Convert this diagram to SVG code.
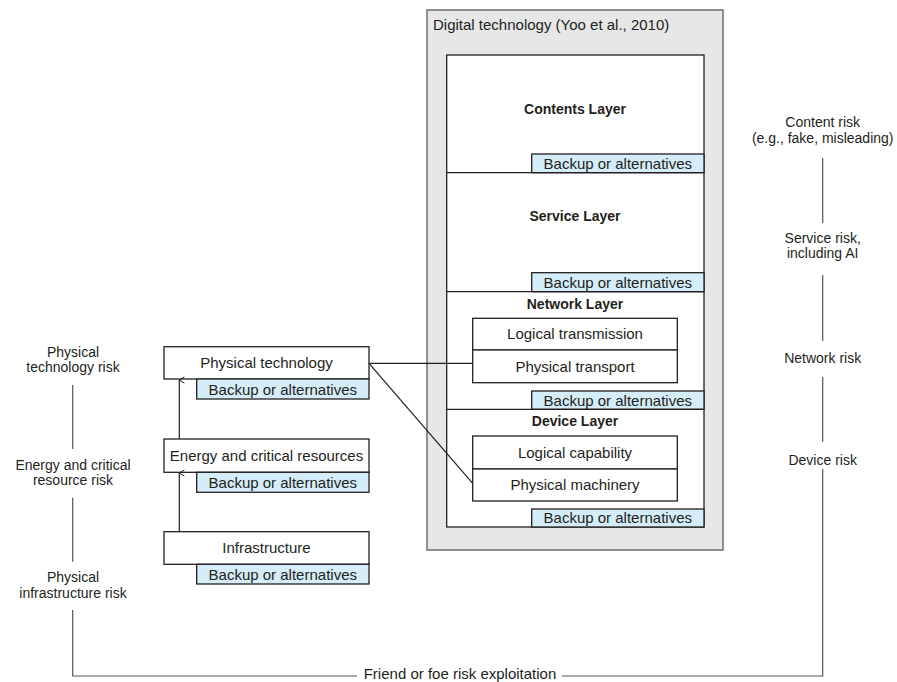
<svg xmlns="http://www.w3.org/2000/svg" width="897" height="682" viewBox="0 0 897 682">
<style>
text{font-family:"Liberation Sans",Arial,sans-serif;font-size:15px;fill:#231f20;text-anchor:middle}
.b{font-weight:bold;font-size:14px}
.r{font-size:14px}
.box{fill:#fff;stroke:#231f20;stroke-width:1.3}
.bk{fill:#d5edf8;stroke:#231f20;stroke-width:1.3}
.ln{stroke:#231f20;stroke-width:1.2;fill:none}
.gl{stroke:#555;stroke-width:1.2;fill:none}
</style>
<defs>
<marker id="ah" markerWidth="8" markerHeight="8" refX="4" refY="1" orient="auto-start-reverse" markerUnits="userSpaceOnUse" viewBox="0 0 8 8">
<path d="M1,6 L4,1 L7,6" fill="none" stroke="#231f20" stroke-width="1"/>
</marker>
</defs>
<rect width="897" height="682" fill="#fff"/>

<g id="digital-technology">
<rect x="427" y="10" width="296" height="540" fill="#e6e7e8" stroke="#6d6e70" stroke-width="1.5"/>
<text x="433" y="30" style="text-anchor:start">Digital technology (Yoo et al., 2010)</text>
<rect class="box" x="446.7" y="55" width="257.3" height="472"/>
</g>

<g id="contents-layer">
<text class="b" x="575" y="114">Contents Layer</text>
<rect class="bk" x="531.7" y="154" width="172.3" height="18.7"/>
<text x="617.8" y="169">Backup or alternatives</text>
<line class="ln" x1="446.7" y1="172.7" x2="704" y2="172.7"/>
</g>

<g id="service-layer">
<text class="b" x="575" y="221">Service Layer</text>
<rect class="bk" x="531.7" y="272.7" width="172.3" height="19"/>
<text x="617.8" y="287.5">Backup or alternatives</text>
<line class="ln" x1="446.7" y1="291.7" x2="704" y2="291.7"/>
</g>

<g id="network-layer">
<text class="b" x="575" y="309">Network Layer</text>
<rect class="box" x="472.7" y="318.3" width="204.6" height="31.7"/>
<text x="575" y="339">Logical transmission</text>
<rect class="box" x="472.7" y="350" width="204.6" height="32.7"/>
<text x="575" y="371.5">Physical transport</text>
<rect class="bk" x="531.7" y="391" width="172.3" height="18.3"/>
<text x="617.8" y="405.5">Backup or alternatives</text>
<line class="ln" x1="446.7" y1="409.3" x2="704" y2="409.3"/>
</g>

<g id="device-layer">
<text class="b" x="575" y="426">Device Layer</text>
<rect class="box" x="472.7" y="436" width="204.6" height="33"/>
<text x="575" y="457.5">Logical capability</text>
<rect class="box" x="472.7" y="469" width="204.6" height="32"/>
<text x="575" y="490">Physical machinery</text>
<rect class="bk" x="531.7" y="509" width="172.3" height="18"/>
<text x="617.8" y="523">Backup or alternatives</text>
</g>

<g id="physical-technology">
<rect class="box" x="164" y="346.7" width="205" height="32.3"/>
<text x="266.5" y="368">Physical technology</text>
<rect class="bk" x="196.7" y="379" width="172.3" height="20"/>
<text x="282.8" y="394.5">Backup or alternatives</text>
</g>

<g id="energy">
<rect class="box" x="164" y="439" width="205" height="33.3"/>
<text x="266.5" y="461">Energy and critical resources</text>
<rect class="bk" x="196.7" y="472.3" width="172.3" height="20"/>
<text x="282.8" y="487.5">Backup or alternatives</text>
</g>

<g id="infrastructure">
<rect class="box" x="164" y="531.7" width="205" height="32.6"/>
<text x="266.5" y="553">Infrastructure</text>
<rect class="bk" x="196.7" y="564.3" width="172.3" height="19.7"/>
<text x="282.8" y="579.5">Backup or alternatives</text>
</g>

<g id="left-risks">
<text class="r" x="73" y="356.5">Physical</text>
<text class="r" x="73" y="372">technology risk</text>
<text class="r" x="73" y="469.5">Energy and critical</text>
<text class="r" x="73" y="485">resource risk</text>
<text class="r" x="73" y="581.5">Physical</text>
<text class="r" x="73" y="597.5">infrastructure risk</text>
</g>

<g id="right-risks">
<text class="r" x="822.7" y="127">Content risk</text>
<text class="r" x="822.7" y="142.5">(e.g., fake, misleading)</text>
<text class="r" x="822.7" y="242.5">Service risk,</text>
<text class="r" x="822.7" y="258">including AI</text>
<text class="r" x="822.7" y="363">Network risk</text>
<text class="r" x="822.7" y="465">Device risk</text>
</g>

<g id="bottom-label">
<text x="460" y="679">Friend or foe risk exploitation</text>
</g>

<g id="connectors">
<line class="ln" x1="179.3" y1="439" x2="179.3" y2="380" marker-end="url(#ah)"/>
<line class="ln" x1="179.3" y1="531.7" x2="179.3" y2="473" marker-end="url(#ah)"/>
<line class="ln" x1="369" y1="363.3" x2="472.7" y2="363.3"/>
<line class="ln" x1="369" y1="363.3" x2="472.7" y2="483.3"/>
<line class="gl" x1="72.7" y1="385" x2="72.7" y2="449"/>
<line class="gl" x1="72.7" y1="497.7" x2="72.7" y2="561.7"/>
<polyline class="gl" points="72.7,610 72.7,676 357,676"/>
<polyline class="gl" points="561.7,676 822.7,676 822.7,469"/>
<line class="gl" x1="822.7" y1="158" x2="822.7" y2="223"/>
<line class="gl" x1="822.7" y1="275" x2="822.7" y2="341"/>
<line class="gl" x1="822.7" y1="377" x2="822.7" y2="441.7"/>
</g>
</svg>
